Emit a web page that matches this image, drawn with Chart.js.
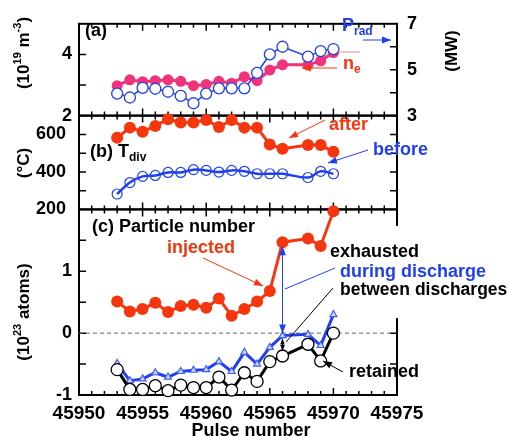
<!DOCTYPE html>
<html>
<head>
<meta charset="utf-8">
<script src="https://cdn.jsdelivr.net/npm/chart.js@4.4.0/dist/chart.umd.min.js"></script>
<style>
  html, body { margin: 0; padding: 0; background: #fff; }
</style>
</head>
<body>
<canvas id="pulseChart" width="509" height="436"></canvas>
<script>
// Pulse numbers (no data for 45967)
const pulses = [45953, 45954, 45955, 45956, 45957, 45958, 45959, 45960, 45961, 45962, 45963, 45964, 45965, 45966, 45968, 45969, 45970];

// (a) line density (10^19 m^-3) and radiated power (MW)
const density = [2.98, 3.17, 3.11, 3.14, 3.17, 3.12, 2.98, 3.02, 3.12, 3.06, 3.27, 3.14, 3.49, 3.66, 3.66, 3.79, 4.06];
const radPower = [3.96, 3.79, 4.21, 4.17, 4.04, 3.86, 3.54, 3.96, 4.19, 4.19, 4.19, 4.86, 5.67, 6.00, 5.57, 5.81, 5.90];

// (b) divertor temperature (°C)
const tdivAfter = [582, 636, 614, 645, 681, 663, 663, 677, 639, 677, 636, 636, 546, 523, 543, 543, 507];
const tdivBefore = [282, 343, 376, 381, 397, 397, 412, 408, 399, 408, 403, 390, 390, 390, 370, 403, 390];

// (c) particle number (10^23 atoms)
const injected = [0.51, 0.35, 0.39, 0.49, 0.34, 0.44, 0.46, 0.41, 0.56, 0.28, 0.39, 0.51, 0.68, 1.47, 1.53, 1.41, 1.97];
const exhausted = [-0.49, -0.77, -0.74, -0.64, -0.71, -0.62, -0.60, -0.59, -0.46, -0.62, -0.31, -0.50, -0.23, -0.04, -0.02, -0.20, 0.30];
const retained = [-0.59, -0.91, -0.91, -0.85, -0.93, -0.84, -0.88, -0.88, -0.71, -0.92, -0.64, -0.78, -0.46, -0.37, -0.18, -0.45, 0.00];
const zeroLine = [45950, 45974.5];

// tick labels
const xLabels = [45950, 45955, 45960, 45965, 45970, 45975];
const aLabels = [2, 4];
const mwLabels = [3, 5, 7];
const bLabels = [200, 400, 600];
const cLabels = [-1, 0, 1];

const FONT = '"Liberation Sans", Arial, Helvetica, sans-serif';
const PINK = '#f0337a';
const RED = '#f5360f';
const BLUE = '#1f3ff0';

const pts = ys => pulses.map((p, i) => ({ x: p, y: ys[i] }));

function yAxis(pos, stack, weight, min, max, labels, pad) {
    return {
        type: 'linear',
        position: pos,
        stack: stack,
        stackWeight: weight,
        min: min,
        max: max,
        grid: { display: false, drawTicks: false },
        border: { display: false },
        ticks: {
            display: labels.length > 0,
            autoSkip: false,
            padding: pad,
            color: '#000',
            font: { family: FONT, size: 18, weight: 'bold' }
        },
        afterBuildTicks: s => { s.ticks = labels.map(v => ({ value: v })); },
        afterFit: s => { s.width = pos === 'left' ? 79 : 112; }
    };
}

function fnt(size) {
    return 'bold ' + size + 'px ' + FONT;
}

// text with sub/superscripts: parts = [[text, shift]], shift 1 = sub, -1 = sup
function richText(ctx, parts, x, y, size, color, align) {
    const widths = parts.map(([t, s]) => {
        ctx.font = fnt(s ? Math.round(size * 0.66) : size);
        return ctx.measureText(t).width;
    });
    const total = widths.reduce((a, b) => a + b, 0);
    let cx = align === 'center' ? x - total / 2 : (align === 'right' ? x - total : x);
    ctx.fillStyle = color;
    ctx.textBaseline = 'middle';
    ctx.textAlign = 'left';
    parts.forEach(([t, s], i) => {
        ctx.font = fnt(s ? Math.round(size * 0.66) : size);
        ctx.fillText(t, cx, y + (s > 0 ? size * 0.32 : s < 0 ? -size * 0.33 : 0));
        cx += widths[i];
    });
}

function rotatedText(ctx, parts, x, y, size) {
    ctx.save();
    ctx.translate(x, y);
    ctx.rotate(-Math.PI / 2);
    richText(ctx, parts, 0, 0, size, '#000', 'center');
    ctx.restore();
}

function arrow(ctx, x1, y1, x2, y2, color, width, head) {
    ctx.strokeStyle = color;
    ctx.fillStyle = color;
    ctx.lineWidth = width;
    ctx.beginPath();
    ctx.moveTo(x1, y1);
    ctx.lineTo(x2, y2);
    ctx.stroke();
    const a = Math.atan2(y2 - y1, x2 - x1);
    const w = head * 0.38;
    ctx.beginPath();
    ctx.moveTo(x2, y2);
    ctx.lineTo(x2 - head * Math.cos(a) + w * Math.sin(a), y2 - head * Math.sin(a) - w * Math.cos(a));
    ctx.lineTo(x2 - head * Math.cos(a) - w * Math.sin(a), y2 - head * Math.sin(a) + w * Math.cos(a));
    ctx.closePath();
    ctx.fill();
}

// Panel frames and inward tick marks
const panelFrames = {
    id: 'panelFrames',
    beforeDatasetsDraw(chart) {
        const { ctx, chartArea, scales } = chart;
        const { left, right } = chartArea;
        const x = scales.x;
        ctx.save();
        ctx.strokeStyle = '#000';
        ctx.lineWidth = 1.5;
        const panels = [
            { l: scales.yA, r: scales.yR, lStep: 1, rStep: 1 },
            { l: scales.yB, r: scales.yB, lStep: 100, rStep: 100 },
            { l: scales.yC, r: scales.yC, lStep: 0.5, rStep: 0.5 }
        ];
        panels.forEach(p => {
            const top = p.l.top, bottom = p.l.bottom;
            ctx.beginPath();
            for (let v = 45951; v < 45975; v++) {
                const px = x.getPixelForValue(v);
                const len = v % 5 === 0 ? 7 : 4;
                ctx.moveTo(px, top); ctx.lineTo(px, top + len);
                ctx.moveTo(px, bottom); ctx.lineTo(px, bottom - len);
            }
            for (let v = p.l.min + p.lStep; v < p.l.max - 1e-6; v += p.lStep) {
                const py = p.l.getPixelForValue(v);
                ctx.moveTo(left, py); ctx.lineTo(left + 7, py);
            }
            for (let v = p.r.min + p.rStep; v < p.r.max - 1e-6; v += p.rStep) {
                const py = p.r.getPixelForValue(v);
                ctx.moveTo(right, py); ctx.lineTo(right - 7, py);
            }
            ctx.stroke();
        });
        ctx.lineWidth = 2;
        panels.forEach(p => {
            ctx.strokeRect(left, p.l.top, right - left, p.l.bottom - p.l.top);
        });
        ctx.restore();
    }
};

// Labels, arrows and axis titles
const annotations = {
    id: 'annotations',
    afterDatasetsDraw(chart) {
        const { ctx, scales } = chart;
        const x66 = scales.x.getPixelForValue(45966);
        ctx.save();

        // axis titles
        rotatedText(ctx, [['(10', 0], ['19', -1], [' m', 0], ['-3', -1], [')', 0]], 24, 53, 17);
        rotatedText(ctx, [['(°C)', 0]], 24, 163, 17);
        rotatedText(ctx, [['(10', 0], ['23', -1], [' atoms)', 0]], 24, 312, 17);
        rotatedText(ctx, [['(MW)', 0]], 452, 51, 17);
        richText(ctx, [['Pulse number', 0]], 251, 431, 18, '#000', 'center');

        // (a)
        richText(ctx, [['(a)', 0]], 85, 31, 18, '#000', 'left');
        richText(ctx, [['P', 0], ['rad', 1]], 342, 26, 18, BLUE, 'left');
        arrow(ctx, 363, 40, 391, 40, BLUE, 1, 9);
        richText(ctx, [['n', 0], ['e', 1]], 343, 64, 18, RED, 'left');
        arrow(ctx, 337, 68, 302, 68, RED, 1, 9);
        ctx.strokeStyle = '#f48a80';
        ctx.lineWidth = 1;
        ctx.beginPath(); ctx.moveTo(338, 52); ctx.lineTo(360, 52); ctx.stroke();

        // (b)
        richText(ctx, [['(b) ', 0], ['T', 0], ['div', 1]], 90, 152, 18, '#000', 'left');
        richText(ctx, [['after', 0]], 329, 125, 18, RED, 'left');
        arrow(ctx, 325, 120, 289, 138, RED, 1, 9);
        richText(ctx, [['before', 0]], 373, 150, 18, BLUE, 'left');
        arrow(ctx, 368, 150, 328, 163, BLUE, 1, 9);

        // (c)
        richText(ctx, [['(c) Particle number', 0]], 92, 227, 18, '#000', 'left');
        richText(ctx, [['injected', 0]], 167, 248, 18, RED, 'left');
        arrow(ctx, 203, 258, 263, 286, RED, 1, 9);

        ctx.fillStyle = '#fff';
        ctx.fillRect(340, 226, 169, 92);
        richText(ctx, [['exhausted', 0]], 330, 252, 18, '#000', 'left');
        richText(ctx, [['during discharge', 0]], 340, 272, 18, BLUE, 'left');
        richText(ctx, [['between discharges', 0]], 340, 290, 17.5, '#000', 'left');

        ctx.strokeStyle = BLUE;
        ctx.lineWidth = 1;
        ctx.beginPath(); ctx.moveTo(335, 268); ctx.lineTo(285, 289); ctx.stroke();
        ctx.strokeStyle = '#000';
        ctx.beginPath(); ctx.moveTo(333, 288); ctx.lineTo(286, 342); ctx.stroke();

        // double arrows at 45966
        const yInj = scales.yC.getPixelForValue(injected[13]);
        const yExh = scales.yC.getPixelForValue(exhausted[13]);
        const yRet = scales.yC.getPixelForValue(retained[13]);
        arrow(ctx, x66, (yInj + yExh) / 2, x66, yInj + 4, BLUE, 1, 9);
        arrow(ctx, x66, (yInj + yExh) / 2, x66, yExh - 2, BLUE, 1, 9);
        arrow(ctx, x66, (yExh + yRet) / 2, x66, yExh + 3, '#000', 1, 6);
        arrow(ctx, x66, (yExh + yRet) / 2, x66, yRet - 5, '#000', 1, 6);

        richText(ctx, [['retained', 0]], 349, 372, 18, '#000', 'left');
        arrow(ctx, 343, 372, 323, 361, '#000', 1, 9);

        ctx.restore();
    }
};

const ctx = document.getElementById('pulseChart').getContext('2d');
new Chart(ctx, {
    type: 'line',
    data: {
        datasets: [
            {
                label: 'n_e', data: pts(density), yAxisID: 'yA', order: 2,
                borderColor: PINK, backgroundColor: PINK, borderWidth: 3,
                pointRadius: 5.5, pointBorderWidth: 0, pointBackgroundColor: PINK
            },
            {
                label: 'P_rad', data: pts(radPower), yAxisID: 'yR', order: 1,
                borderColor: BLUE, borderWidth: 1.5,
                pointRadius: 5.5, pointBorderWidth: 1.3, pointBorderColor: BLUE, pointBackgroundColor: '#fff'
            },
            {
                label: 'after', data: pts(tdivAfter), yAxisID: 'yB', order: 2,
                borderColor: RED, backgroundColor: RED, borderWidth: 3,
                pointRadius: 6, pointBorderWidth: 0, pointBackgroundColor: RED
            },
            {
                label: 'before', data: pts(tdivBefore), yAxisID: 'yB', order: 1, tension: 0.35,
                borderColor: BLUE, borderWidth: 2.5,
                pointRadius: 5, pointBorderWidth: 1.2, pointBorderColor: BLUE, pointBackgroundColor: 'rgba(255,255,255,0)'
            },
            {
                label: 'zero', data: zeroLine.map(x => ({ x: x, y: 0 })), yAxisID: 'yC', order: 9,
                borderColor: '#666', borderWidth: 1, borderDash: [4, 3], pointRadius: 0
            },
            {
                label: 'injected', data: pts(injected), yAxisID: 'yC', order: 3,
                borderColor: RED, backgroundColor: RED, borderWidth: 3,
                pointRadius: 6, pointBorderWidth: 0, pointBackgroundColor: RED
            },
            {
                label: 'exhausted', data: pts(exhausted), yAxisID: 'yC', order: 2,
                borderColor: BLUE, borderWidth: 3, pointStyle: 'triangle',
                pointRadius: 4, pointBorderWidth: 1.2, pointBorderColor: '#3a5cff', pointBackgroundColor: '#d0d8ff'
            },
            {
                label: 'retained', data: pts(retained), yAxisID: 'yC', order: 1,
                borderColor: '#000', borderWidth: 3,
                pointRadius: 6, pointBorderWidth: 1.3, pointBorderColor: '#000', pointBackgroundColor: '#fff'
            }
        ]
    },
    options: {
        responsive: false,
        animation: false,
        clip: false,
        layout: { padding: { top: 15, right: 0, bottom: 0, left: 0 } },
        plugins: { legend: { display: false }, tooltip: { enabled: false } },
        scales: {
            x: {
                type: 'linear', position: 'bottom', min: 45950, max: 45975,
                grid: { display: false, drawTicks: false },
                border: { display: false },
                ticks: {
                    autoSkip: false, maxRotation: 0, padding: 7, color: '#000',
                    font: { family: FONT, size: 19, weight: 'bold' },
                    callback: v => String(v)
                },
                afterBuildTicks: s => { s.ticks = xLabels.map(v => ({ value: v })); },
                afterFit: s => { s.height = 41; }
            },
            yC: yAxis('left', 'L', 190, -1, 2, cLabels, 7),
            yB: yAxis('left', 'L', 96, 200, 700, bLabels, 13),
            yA: yAxis('left', 'L', 94, 2, 5, aLabels, 7),
            yR: yAxis('right', 'R', 94, 3, 7, mwLabels, 10),
            yRb: yAxis('right', 'R', 96, 200, 700, [], 10),
            yRc: yAxis('right', 'R', 190, -1, 2, [], 10)
        }
    },
    plugins: [panelFrames, annotations]
});
</script>
</body>
</html>
